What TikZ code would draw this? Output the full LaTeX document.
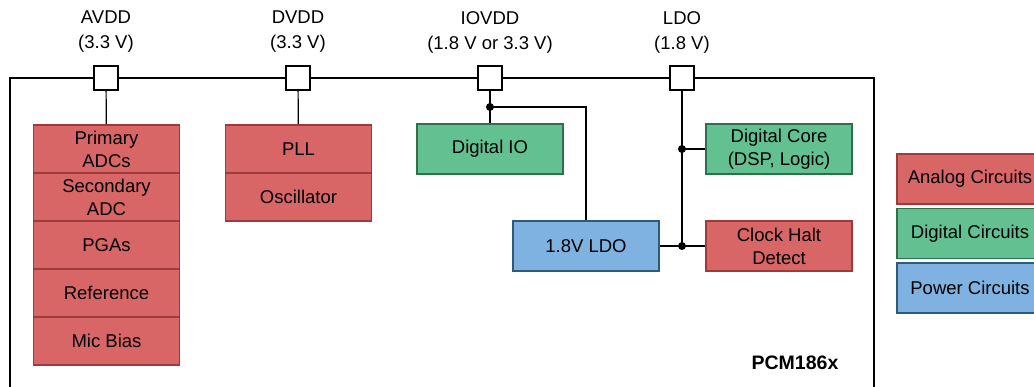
\documentclass[tikz,border=0pt]{standalone}
\usepackage{fontspec}
\setmainfont{Liberation Sans}
\definecolor{anafill}{RGB}{217,102,102}
\definecolor{anadraw}{RGB}{160,58,58}
\definecolor{digfill}{RGB}{99,193,145}
\definecolor{digdraw}{RGB}{46,112,78}
\definecolor{pwrfill}{RGB}{127,178,224}
\definecolor{pwrdraw}{RGB}{44,92,122}
\tikzset{
  txt/.style={font=\fontsize{18.5}{23}\selectfont},
  blk/.style={txt, draw, line width=1.9pt, minimum width=146pt, minimum height=50pt, inner sep=0pt, align=center},
  ana/.style={blk, fill=anafill, draw=anadraw},
  dig/.style={blk, fill=digfill, draw=digdraw},
  pwr/.style={blk, fill=pwrfill, draw=pwrdraw},
  row/.style={minimum height=48pt},
  pin/.style={draw, fill=white, line width=1.2pt, minimum size=24pt, inner sep=0pt},
  wire/.style={line width=1.2pt},
  jdot/.style={circle, fill=black, inner sep=0pt, minimum size=8pt},
  lbl/.style={font=\fontsize{18.5}{25}\selectfont, align=center, inner sep=0pt},
  chip/.style={line width=2.5pt}
}
\begin{document}
\begin{tikzpicture}[x=1pt,y=-1pt]
\useasboundingbox (0,0) rectangle (1034,387);
% chip outline
\draw[chip] (10,395) -- (10,78) -- (874,78) -- (874,395);
\node[font=\fontsize{19.5}{22}\selectfont\bfseries] (chipname) at (795,363) {PCM186x};
% pins
\node[pin] (pavdd) at (106,78) {};
\node[pin] (pdvdd) at (298,78) {};
\node[pin] (piovdd) at (490,78) {};
\node[pin] (pldo) at (682,78) {};
% pin labels
\node[lbl] (lavdd) at (106,32) {AVDD\\(3.3 V)};
\node[lbl] (ldvdd) at (298,32) {DVDD\\(3.3 V)};
\node[lbl] (liovdd) at (490,32) {IOVDD\\(1.8 V or 3.3 V)};
\node[lbl] (lldo) at (682,32) {LDO\\(1.8 V)};
% analog stack
\node[ana,row] (adc1) at (106.5,149) {Primary\\ADCs};
\node[ana,row] (adc2) at (106.5,197) {Secondary\\ADC};
\node[ana,row] (pga) at (106.5,245) {PGAs};
\node[ana,row] (ref) at (106.5,293) {Reference};
\node[ana,row] (mic) at (106.5,341) {Mic Bias};
% clock stack
\node[ana,row] (pll) at (298.5,149) {PLL};
\node[ana,row] (osc) at (298.5,197) {Oscillator};
% digital
\node[dig] (dio) at (490,149) {Digital IO};
\node[dig] (dcore) at (779,149) {Digital Core\\(DSP, Logic)};
\node[pwr] (ldo) at (586,246) {1.8V LDO};
\node[ana] (chd) at (779,246) {Clock Halt\\Detect};
% legend
\node[ana] (lgana) at (970,179) {Analog Circuits};
\node[dig] (lgdig) at (970,233.5) {Digital Circuits};
\node[pwr] (lgpwr) at (970,288) {Power Circuits};
% wires
\draw[wire] (pavdd) -- (adc1);
\draw[wire] (pdvdd) -- (pll);
\node[jdot] (j1) at (490,107) {};
\draw[wire] (piovdd) -- (dio);
\draw[wire] (j1.center) -| (ldo.north);
\node[jdot] (j2) at (682,149) {};
\node[jdot] (j3) at (682,246) {};
\draw[wire] (pldo) -- (j3.center);
\draw[wire] (j2.center) -- (dcore.west);
\draw[wire] (ldo.east) -- (chd.west);
\end{tikzpicture}
\end{document}
